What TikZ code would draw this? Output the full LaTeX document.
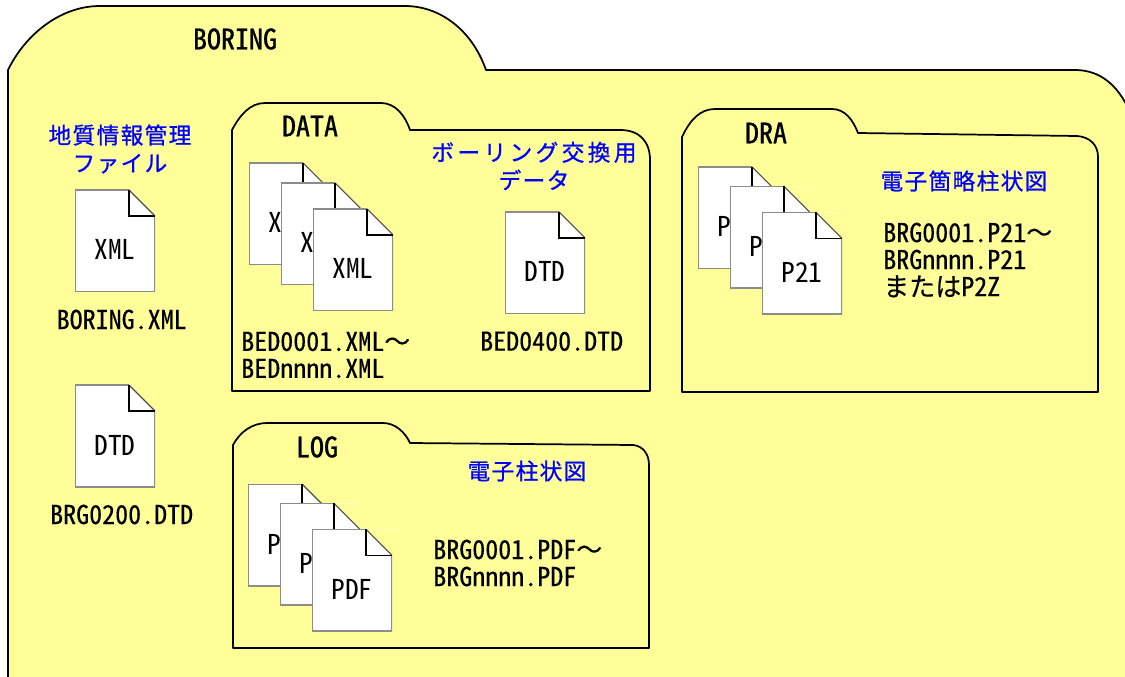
\documentclass[tikz,border=0pt]{standalone}
\usepackage{fontspec}
\usetikzlibrary{positioning}
\newfontfamily\latinfont[RawFeature={+hwid},FakeBold=0.3]{Noto Sans CJK JP}
\newfontfamily\docfont[RawFeature={+hwid}]{Noto Sans CJK JP}
\newfontfamily\titlefont[RawFeature={+hwid},FakeBold=0.9]{Noto Sans CJK JP}
\newfontfamily\jpfont[FakeBold=0.3]{Noto Sans CJK JP}
\newfontfamily\bluefont[LetterSpace=6,FakeBold=0.8]{Noto Sans CJK JP}
\newfontfamily\widebluefont[LetterSpace=15,FakeBold=0.8]{Noto Sans CJK JP}
\definecolor{folderyellow}{HTML}{FFFF99}
\definecolor{bluetxt}{HTML}{0000FF}
\tikzstyle{folder}=[fill=folderyellow, draw=black, line width=1.3pt, line join=round]
\tikzstyle{titletxt}=[inner sep=0pt, font=\fontsize{21}{25}\selectfont\titlefont]
\tikzstyle{nametxt}=[inner sep=0pt, align=left, font=\fontsize{19.5}{20.25}\selectfont\latinfont]
\tikzstyle{bluetxt}=[inner sep=0pt, align=center, text=bluetxt,
                     font=\fontsize{17}{21}\selectfont\bluefont]
\tikzstyle{docbox}=[rectangle, fill=white, minimum width=60pt, minimum height=76.5pt,
                    inner sep=0pt, outer sep=0pt, text height=30pt, text depth=1.5pt,
                    font=\fontsize{20.5}{23}\selectfont\docfont,
                    path picture={
                      \fill[folderyellow] (path picture bounding box.north east) ++(-26,0) -- ++(26,26) -- ++(0,-26) -- cycle;
                      \draw[black!45, line width=1.6pt] (path picture bounding box.north west) ++(54,0) -- ++(-54,0) -- ++(0,102) -- ++(80,0) -- ++(0,-76);
                      \draw[black!70, line width=.8pt] (path picture bounding box.north east) ++(-26,0) -- ++(26,26);
                      \draw[black, line width=.8pt] (path picture bounding box.north east) ++(-26,0) -- ++(0,26) -- ++(26,0);
                    }]

\begin{document}
\begin{tikzpicture}[x=0.75pt, y=-0.75pt, node distance=0mm]
\useasboundingbox (0,0) rectangle (1125,677);
\clip (0,0) rectangle (1125,677);

% outer folder
\draw[folder] (8,700) -- (8,70) .. controls (25,35) and (60,6) .. (100,6) -- (405,6)
  .. controls (440,6) and (472,30) .. (486,70) -- (1075,70)
  .. controls (1100,70) and (1118,85) .. (1130,112) -- (1130,700) -- cycle;
\node (BORING) [titletxt] at (235,39) {BORING};

\node (KANRI) [bluetxt] at (120,149) {地質情報管理\\ファイル};
\node (BORINGDOC) [docbox, anchor=north west] at (75,190) {XML};
\node (BORINGXML) [nametxt, below=13pt of BORINGDOC, xshift=5pt] {BORING.XML};
\node (BRGDOC) [docbox, anchor=north west] at (75,385) {DTD};
\node (BRGDTD) [nametxt, below=13pt of BRGDOC, xshift=5pt] {BRG0200.DTD};

% DATA
\draw[folder] (232,391) -- (232,130) .. controls (240,115) and (250,103) .. (265,103) -- (381,103)
  .. controls (395,103) and (405,115) .. (410,130) -- (620,130)
  .. controls (640,130) and (650,142) .. (650,160) -- (650,391) -- cycle;
\node (DATA) [titletxt] at (310,126) {DATA};
\node (DATAA) [docbox, anchor=north west] at (249,163) {XML};
\node (DATAB) [docbox, below right=-61.5pt and -36pt of DATAA] {XML};
\node (DATAC) [docbox, below right=-57pt and -36pt of DATAB] {XML};
\node (DATAKO) [bluetxt] at (534,166) {{\widebluefont ボーリング交換用}\\データ};
\node (DATADOC) [docbox, anchor=north west] at (505,212) {DTD};
\node (BEDXML) [nametxt, anchor=west] at (241,355) {BED0001.XML{\jpfont ～}\\BEDnnnn.XML};
\node (BEDDTD) [nametxt, below=13pt of DATADOC, xshift=5pt] {BED0400.DTD};

% DRA
\draw[folder] (682,392) -- (682,137) .. controls (690,120) and (700,109) .. (715,109) -- (832,109)
  .. controls (845,109) and (853,120) .. (858,133) -- (1077,136)
  .. controls (1090,137) and (1098,145) .. (1098,157) -- (1098,392) -- cycle;
\node (DRA) [titletxt] at (766,133) {DRA};
\node (DRAA) [docbox, anchor=north west] at (698,167) {P21};
\node (DRAB) [docbox, below right=-62pt and -36pt of DRAA] {P21};
\node (DRAC) [docbox, below right=-57pt and -36pt of DRAB] {P21};
\node (DRAKO) [bluetxt] at (964,181) {電子箇略柱状図};
\node (DRANAME) [nametxt, anchor=west] at (883,260) {BRG0001.P21{\jpfont ～}\\BRGnnnn.P21\\{\jpfont または}P2Z};

% LOG
\draw[folder] (233,648) -- (233,445) .. controls (240,432) and (252,423) .. (267,423) -- (383,423)
  .. controls (395,423) and (405,432) .. (410,443) -- (633,445)
  .. controls (643,446) and (649,454) .. (649,465) -- (649,648) -- cycle;
\node (LOG) [titletxt] at (317,447) {LOG};
\node (LOGA) [docbox, anchor=north west] at (248,484) {PDF};
\node (LOGB) [docbox, below right=-62pt and -36pt of LOGA] {PDF};
\node (LOGC) [docbox, below right=-57pt and -36pt of LOGB] {PDF};
\node (LOGKO) [bluetxt] at (527,471) {電子柱状図};
\node (LOGNAME) [nametxt, anchor=west] at (433,563) {BRG0001.PDF{\jpfont ～}\\BRGnnnn.PDF};

\end{tikzpicture}
\end{document}
